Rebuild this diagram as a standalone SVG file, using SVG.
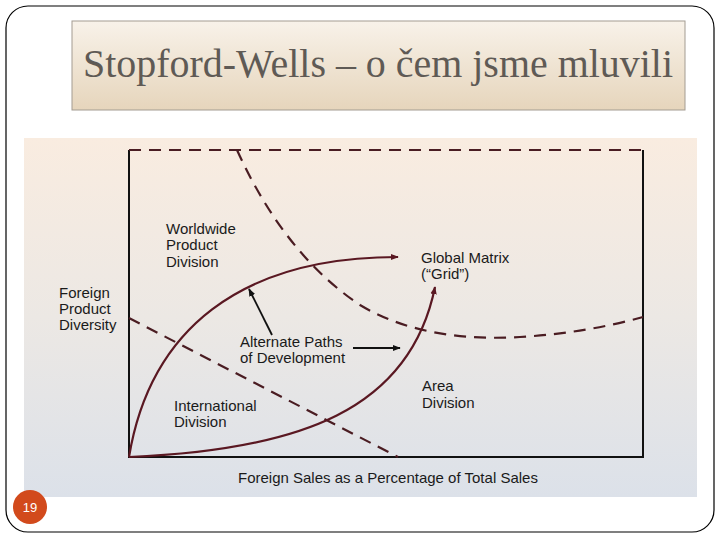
<svg xmlns="http://www.w3.org/2000/svg" width="720" height="540" viewBox="0 0 720 540">
<defs>
<linearGradient id="titleGrad" x1="0" y1="0" x2="0" y2="1">
<stop offset="0" stop-color="#f8f2e9"/>
<stop offset="1" stop-color="#e6d5bc"/>
</linearGradient>
<linearGradient id="imgGrad" x1="0" y1="0" x2="0" y2="1">
<stop offset="0" stop-color="#f9ece0"/>
<stop offset="0.5" stop-color="#ece8e4"/>
<stop offset="1" stop-color="#dce1e9"/>
</linearGradient>
<marker id="mh" viewBox="0 0 10 10" refX="9" refY="5" markerWidth="8" markerHeight="8" markerUnits="userSpaceOnUse" orient="auto">
<path d="M0,1 L10,5 L0,9 z" fill="#5a1822"/>
</marker>
<marker id="bh" viewBox="0 0 10 10" refX="9" refY="5" markerWidth="8" markerHeight="8" markerUnits="userSpaceOnUse" orient="auto">
<path d="M0,1 L10,5 L0,9 z" fill="#111"/>
</marker>
</defs>
<style>
.lbl{font-family:"Liberation Sans",Arial,sans-serif;font-size:15px;fill:#1a1a1a}
.dash{fill:none;stroke:#4a1c22;stroke-width:2.2;stroke-dasharray:12,8}
.path{fill:none;stroke:#5a1822;stroke-width:2.2}
.ann{fill:none;stroke:#111;stroke-width:1.8}
.axis{fill:none;stroke:#111;stroke-width:2}
</style>
<rect x="6" y="6" width="708" height="526" rx="22" ry="22" fill="#fff" stroke="#000" stroke-width="1.2"/>
<g id="title">
<rect x="72" y="21" width="613" height="89" fill="url(#titleGrad)" stroke="#a39c92" stroke-width="1"/>
<text x="83" y="77" font-family="'Liberation Serif','Times New Roman',serif" font-size="41" fill="#5f5a55" textLength="590" lengthAdjust="spacingAndGlyphs">Stopford-Wells – o čem jsme mluvili</text>
</g>
<rect x="24" y="138" width="673" height="359" fill="url(#imgGrad)"/>
<g id="plot-frame">
<path class="axis" d="M129,150 L129,457 L643,457 L643,150"/>
<path class="dash" d="M129,150 L643,150"/>
</g>
<g id="connectors">
<path class="dash" d="M237,150 C262,205 300,265 360,305 C410,335 470,340 520,337 C570,334 610,326 643,317"/>
<path class="dash" d="M129,318 L398,457"/>
<path class="path" d="M129,457 C150,330 240,257 398,257" marker-end="url(#mh)"/>
<path class="path" d="M129,457 C300,450 410,410 435,287" marker-end="url(#mh)"/>
<path class="ann" d="M272,335 L249,289" marker-end="url(#bh)"/>
<path class="ann" d="M353,348 L400,348" marker-end="url(#bh)"/>
</g>
<g id="worldwide">
<text class="lbl" x="166" y="234">Worldwide</text>
<text class="lbl" x="166" y="250">Product</text>
<text class="lbl" x="166" y="267">Division</text>
</g>
<g id="foreign-diversity">
<text class="lbl" x="59" y="298">Foreign</text>
<text class="lbl" x="59" y="314">Product</text>
<text class="lbl" x="59" y="330">Diversity</text>
</g>
<g id="global-matrix">
<text class="lbl" x="421" y="263">Global Matrix</text>
<text class="lbl" x="421" y="279">(“Grid”)</text>
</g>
<g id="alternate-paths">
<text class="lbl" x="240" y="347">Alternate Paths</text>
<text class="lbl" x="240" y="363">of Development</text>
</g>
<g id="international">
<text class="lbl" x="174" y="411">International</text>
<text class="lbl" x="174" y="427">Division</text>
</g>
<g id="area">
<text class="lbl" x="422" y="391">Area</text>
<text class="lbl" x="422" y="408">Division</text>
</g>
<g id="x-axis-label">
<text class="lbl" x="238" y="483">Foreign Sales as a Percentage of Total Sales</text>
</g>
<g id="page-number">
<circle cx="30" cy="507" r="17" fill="#d24a1c"/>
<text x="30" y="512" text-anchor="middle" font-family="'Liberation Sans',Arial,sans-serif" font-size="13" fill="#fff">19</text>
</g>
</svg>
